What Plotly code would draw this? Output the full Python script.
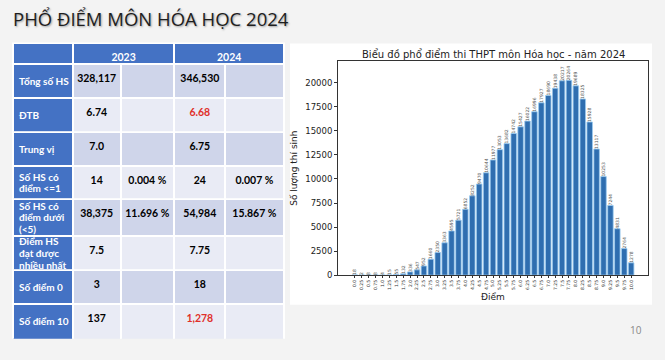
import plotly.graph_objects as go

W, H = 665, 360

# ---- data ----
scores = ["0.0", "0.25", "0.5", "0.75", "1.0", "1.25", "1.5", "1.75", "2.0", "2.25",
          "2.5", "2.75", "3.0", "3.25", "3.5", "3.75", "4.0", "4.25", "4.5", "4.75",
          "5.0", "5.25", "5.5", "5.75", "6.0", "6.25", "6.5", "6.75", "7.0", "7.25",
          "7.5", "7.75", "8.0", "8.25", "8.5", "8.75", "9.0", "9.25", "9.5", "9.75", "10.0"]
counts = [18, 2, 8, 8, 4, 15, 55, 132, 336, 547,
          952, 1660, 2350, 3363, 4595, 5721, 6852, 8252, 9470, 10644,
          11977, 13053, 13682, 14742, 15427, 16022, 16996, 17927, 18690, 19438,
          20217, 20264, 19689, 18325, 15928, 13117, 10253, 7244, 4831, 2764, 1278]

row_labels = ["Tổng số HS", "ĐTB", "Trung vị", "Số HS có<br>điểm &lt;=1",
              "Số HS có<br>điểm dưới<br>(&lt;5)", "Điểm HS<br>đạt được<br>nhiều nhất",
              "Số điểm 0", "Số điểm 10"]
val_2023 = ["328,117", "6.74", "7.0", "14", "38,375", "7.5", "3", "137"]
pct_2023 = ["", "", "", "0.004 %", "11.696 %", "", "", ""]
val_2024 = ["346,530", "6.68", "6.75", "24", "54,984", "7.75", "18", "1,278"]
pct_2024 = ["", "", "", "0.007 %", "15.867 %", "", "", ""]
years = ["2023", "2024"]
highlight_2024 = ["6.68", "1,278"]

# ---- style / layout constants ----
BLUE = "#4472C4"
DARK = "#CFD5EA"
LIGHT = "#E9EBF5"
RED = "#E0302A"
BG = "#F3F3F3"
TFONT = "Lato"
TSIZE = 10.5
LSIZE = 10
LINE_STEP = 12
TABLE_X = (13, 285)
HEADER_Y = (44, 65)
ROW_EDGES = [65, 99, 134, 168, 202, 239, 274, 308, 344]
COL_W = [60, 48, 54, 51, 59]


def px_x(x):
    return x / W


def px_y(y):
    return 1 - y / H


def b(s):
    return "<b>%s</b>" % s.replace(" ", "\u00a0") if s else ""


fig = go.Figure()

# header row with merged year cells
fig.add_trace(go.Table(
    domain=dict(x=[px_x(TABLE_X[0]), px_x(TABLE_X[1])], y=[px_y(HEADER_Y[1]), px_y(HEADER_Y[0])]),
    columnwidth=[COL_W[0], COL_W[1] + COL_W[2], COL_W[3] + COL_W[4]],
    header=dict(values=[""] + [b(y) for y in years],
                fill_color=BLUE, line=dict(color="white", width=2),
                font=dict(family=TFONT, size=TSIZE, color="white"),
                align="center", height=HEADER_Y[1] - HEADER_Y[0]),
    cells=dict(values=[[], [], []]),
))

# body rows (one table row per trace)
annotations = []
for i, label in enumerate(row_labels):
    top, bot = ROW_EDGES[i], ROW_EDGES[i + 1]
    fill = DARK if i % 2 == 0 else LIGHT
    c2024 = RED if val_2024[i] in highlight_2024 else "black"
    fig.add_trace(go.Table(
        domain=dict(x=[px_x(TABLE_X[0]), px_x(TABLE_X[1])], y=[px_y(bot), px_y(top)]),
        columnwidth=COL_W,
        header=dict(
            values=["", b(val_2023[i]), b(pct_2023[i]), b(val_2024[i]), b(pct_2024[i])],
            fill_color=[BLUE, fill, fill, fill, fill],
            line=dict(color="white", width=2),
            font=dict(family=TFONT, size=TSIZE, color=["white", "black", "black", c2024, "black"]),
            align="center", height=bot - top,
        ),
        cells=dict(values=[[], [], [], [], []]),
    ))
    lines = label.split("<br>")
    mid = (top + bot) / 2
    for j, line in enumerate(lines):
        yy = mid + (j - (len(lines) - 1) / 2) * LINE_STEP
        annotations.append(dict(
            text="<b>%s</b>" % line, xref="paper", yref="paper",
            x=px_x(TABLE_X[0] + 4), y=px_y(yy), xanchor="left", yanchor="middle",
            align="left", showarrow=False,
            font=dict(family=TFONT, size=LSIZE, color="white")))

# bar chart
fig.add_trace(go.Bar(
    x=scores, y=counts,
    marker=dict(color="#2F6EB0", line=dict(color="#9CCBF0", width=0.8)),
    text=[str(c) for c in counts], textposition="outside", textangle=-90,
    textfont=dict(size=4.5, color="#555555", family="DejaVu Sans"),
    constraintext="none", cliponaxis=False,
    width=0.8,
))

annotations += [
    dict(text="PHỔ ĐIỂM MÔN HÓA HỌC 2024", xref="paper", yref="paper",
         x=px_x(11), y=px_y(19), xanchor="left", yanchor="middle", showarrow=False,
         font=dict(size=18.5, family="Open Sans", color="#1E1E1E",
                   shadow="1px 1px 2px rgba(0,0,0,0.35)")),
    dict(text="Biểu đồ phổ điểm thi THPT môn Hóa học - năm 2024", xref="paper", yref="paper",
         x=px_x(493), y=px_y(55), xanchor="center", yanchor="middle", showarrow=False,
         font=dict(size=10, family="DejaVu Sans", color="#222")),
    dict(text="10", xref="paper", yref="paper",
         x=px_x(636), y=px_y(335), xanchor="center", yanchor="middle", showarrow=False,
         font=dict(size=10, family="Open Sans", color="#888")),
]

fig.update_layout(
    width=W, height=H,
    margin=dict(l=0, r=0, t=0, b=0),
    paper_bgcolor=BG, plot_bgcolor="white",
    showlegend=False,
    xaxis=dict(domain=[px_x(338), px_x(648)], range=[-2.44, 42.44],
               tickangle=-90, tickfont=dict(size=4.5, family="DejaVu Sans", color="#333"),
               ticks="outside", ticklen=2, tickcolor="#333",
               showline=True, mirror=True, linecolor="#333", linewidth=1,
               showgrid=False, zeroline=False,
               title=dict(text="Điểm", font=dict(size=9, family="DejaVu Sans", color="#222"), standoff=4)),
    yaxis=dict(domain=[px_y(279), px_y(62)], range=[0, 22260],
               tickvals=[0, 2500, 5000, 7500, 10000, 12500, 15000, 17500, 20000],
               tickformat="d",
               tickfont=dict(size=8.5, family="DejaVu Sans", color="#222"),
               ticks="outside", ticklen=3, tickcolor="#333",
               showline=True, mirror=True, linecolor="#333", linewidth=1,
               showgrid=False, zeroline=False,
               title=dict(text="Số lượng thí sinh", font=dict(size=9, family="DejaVu Sans", color="#222"), standoff=6)),
    shapes=[dict(type="rect", xref="paper", yref="paper",
                 x0=px_x(290), x1=px_x(652), y0=px_y(309), y1=px_y(44),
                 fillcolor="white", line=dict(width=0), layer="below")],
    annotations=annotations,
)

fig.write_html(
    "out.html",
    config={"displayModeBar": False},
    post_script="document.body.style.margin='0';document.body.style.background='%s';" % BG,
)
